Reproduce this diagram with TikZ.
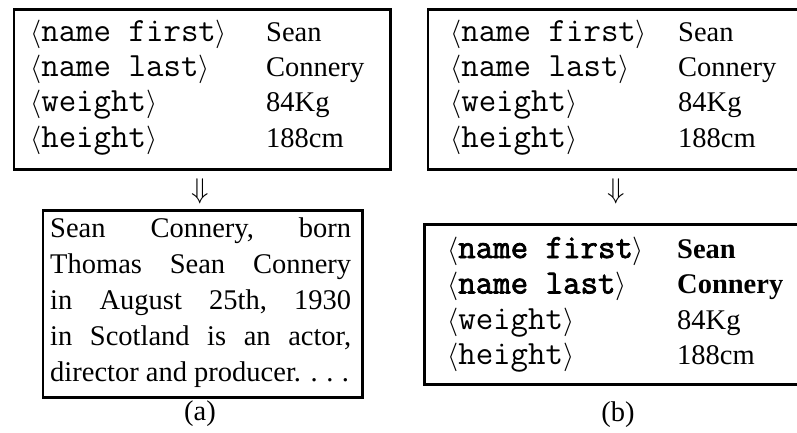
\RequirePackage{fix-cm}
\documentclass[tikz,border=0pt]{standalone}
\usepackage{fontspec}
\setmainfont{Liberation Serif}
\setmonofont[Scale=1.19, BoldFont={Latin Modern Mono}, BoldFeatures={FakeBold=2.2}]{Latin Modern Mono}

\newcommand{\attr}[1]{$\langle$\texttt{#1}$\rangle$}
\newcommand{\battr}[1]{$\langle$\texttt{\bfseries #1}$\rangle$}
\newcommand{\spaceddots}{.\kern0.3em.\kern0.3em.}

\begin{document}
\begin{tikzpicture}[x=1pt,y=-1pt,
  frame/.style={draw, line width=2.6pt, inner sep=0pt, anchor=north west},
  txt/.style={anchor=base west, inner sep=0pt, font=\fontsize{28.5}{35}\selectfont},
  mid/.style={anchor=base, inner sep=0pt, font=\fontsize{28.5}{35}\selectfont}]
\useasboundingbox (0,0) rectangle (797,433);
\clip (0,0) rectangle (797,433);

% (a) record box
\node[frame, minimum width=376.5pt, minimum height=159.5pt] (recA) at (12.5,8.5) {};
\node[txt] (recAk1) at (30,42) {\attr{name first}};
\node[txt] (recAv1) at (266,42) {Sean};
\node[txt] (recAk2) at (30,77) {\attr{name last}};
\node[txt] (recAv2) at (266,77) {Connery};
\node[txt] (recAk3) at (30,112) {\attr{weight}};
\node[txt] (recAv3) at (266,112) {84Kg};
\node[txt] (recAk4) at (30,147) {\attr{height}};
\node[txt] (recAv4) at (266,147) {188cm};

\node[mid] (arrA) at (200,198) {$\Downarrow$};

% (a) generated text
\node[frame, minimum width=319.5pt, minimum height=187pt] (textA) at (41.5,209) {};
\node[txt] (par1) at (50,237) {\hbox to 301pt{Sean\hfill Connery,\hfill born}};
\node[txt] (par2) at (50,273) {\hbox to 301pt{Thomas\hfill Sean\hfill Connery}};
\node[txt] (par3) at (50,309) {\hbox to 301pt{in\hfill August\hfill 25th,\hfill 1930}};
\node[txt] (par4) at (50,345) {\hbox to 301pt{in\hfill Scotland\hfill is\hfill an\hfill actor,}};
\node[txt] (par5) at (50,381) {director and producer. \spaceddots};

\node[mid] (capA) at (200,420) {(a)};

% (b) record box
\node[frame, minimum width=400pt, minimum height=159.5pt] (recB) at (426.5,8.5) {};
\node[txt] (recBk1) at (450,42) {\attr{name first}};
\node[txt] (recBv1) at (678,42) {Sean};
\node[txt] (recBk2) at (450,77) {\attr{name last}};
\node[txt] (recBv2) at (678,77) {Connery};
\node[txt] (recBk3) at (450,112) {\attr{weight}};
\node[txt] (recBv3) at (678,112) {84Kg};
\node[txt] (recBk4) at (450,147) {\attr{height}};
\node[txt] (recBv4) at (678,147) {188cm};

\node[mid] (arrB) at (616,198) {$\Downarrow$};

% (b) record with highlighted fields
\node[frame, minimum width=400pt, minimum height=160pt] (recC) at (423,223) {};
\node[txt] (recCk1) at (447,258) {\battr{name first}};
\node[txt] (recCv1) at (677,258) {\textbf{Sean}};
\node[txt] (recCk2) at (447,293.5) {\battr{name last}};
\node[txt] (recCv2) at (677,293.5) {\textbf{Connery}};
\node[txt] (recCk3) at (447,329) {\attr{weight}};
\node[txt] (recCv3) at (677,329) {84Kg};
\node[txt] (recCk4) at (447,364.5) {\attr{height}};
\node[txt] (recCv4) at (677,364.5) {188cm};

\node[mid] (capB) at (618,421) {(b)};
\end{tikzpicture}
\end{document}
